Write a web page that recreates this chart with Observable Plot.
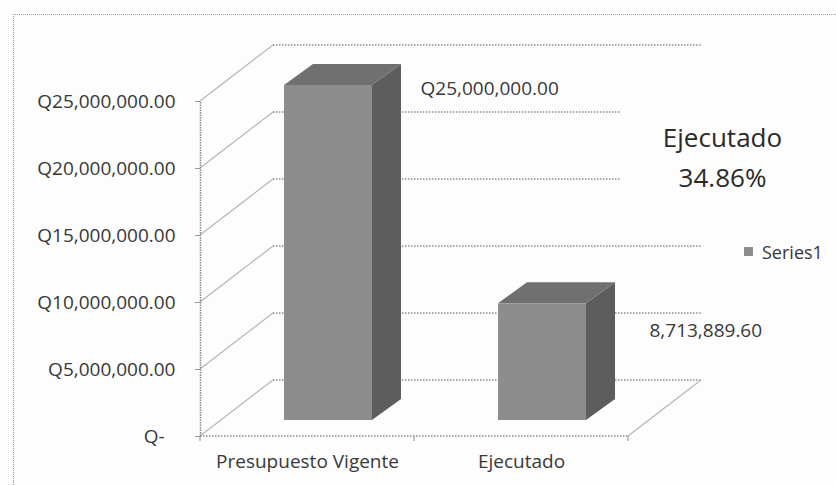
<!DOCTYPE html>
<html>
<head>
<meta charset="utf-8">
<script src="https://cdn.jsdelivr.net/npm/d3@7"></script>
<script src="https://cdn.jsdelivr.net/npm/@observablehq/plot@0.6"></script>
<style>
  html, body { margin: 0; padding: 0; background: #fdfdfd; }
  #wrap { position: relative; width: 836px; height: 486px; overflow: hidden; background: #fdfdfd; font-family: "Open Sans", sans-serif; }
  #frame { position: absolute; left: 13px; top: 14px; width: 1000px; height: 1000px; border-left: 1px dotted #9a9a9a; border-top: 1px dotted #9a9a9a; }
  #chart { position: absolute; left: 0; top: 0; }
  #chart svg g[aria-label="y-axis tick"], #chart svg g[aria-label="y-axis tick"] path { stroke: #9a9a9a; }
  #note { position: absolute; left: 620px; top: 100px; width: 205px; padding-top: 17px; height: 80px; background: #fdfdfd; text-align: center; font-size: 26px; line-height: 40px; color: #2a2a2a; }
  #legend { position: absolute; left: 744px; top: 235px; }
  #legend, #legend * { font-family: "Open Sans", sans-serif !important; font-size: 18px !important; color: #383838 !important; }
</style>
</head>
<body>
<div id="wrap">
  <div id="frame"></div>
  <div id="chart"></div>
  <div id="note"></div>
  <div id="legend"></div>
</div>
<script>
// ---- data ----
const categories = ["Presupuesto Vigente", "Ejecutado"];
const values = [25000000, 8713889.60];
const valueLabels = ["Q25,000,000.00", "8,713,889.60"];
const yTicks = [0, 5000000, 10000000, 15000000, 20000000, 25000000];
const seriesName = "Series1";
const noteTitle = "Ejecutado";

const data = categories.map((c, i) => ({category: c, value: values[i], label: valueLabels[i]}));
const pct = values[1] / values[0] * 100;

// ---- style constants ----
const WALL = {dx: 73, dy: -56};   // back wall offset
const BAR = {dx: 21, dy: -16};    // bar plane offset
const DEPTH = {dx: 29, dy: -21};  // bar depth
const colFront = "#8d8d8d", colTop = "#707070", colSide = "#5d5d5d";
const gridCol = "#8c8c8c", diagCol = "#b5b5b5";

const fmtTick = v => v === 0 ? "Q-\u2007" : "Q" + d3.format(",.2f")(v);

function walls(index, scales, values, dims) {
  const x = scales.x, y = scales.y;
  const g = d3.create("svg:g").attr("fill", "none");
  const x0 = dims.marginLeft, x1 = dims.width - dims.marginRight;
  const y0 = y(0);
  for (const t of yTicks) {
    const yy = y(t);
    g.append("line").attr("x1", x0).attr("y1", yy).attr("x2", x0 + WALL.dx).attr("y2", yy + WALL.dy)
      .attr("stroke", diagCol).attr("stroke-width", 1.2);
    g.append("line").attr("x1", x0 + WALL.dx).attr("x2", x1 + WALL.dx)
      .attr("y1", yy + WALL.dy).attr("y2", yy + WALL.dy)
      .attr("stroke", gridCol).attr("stroke-width", 1.4).attr("stroke-dasharray", "1.5,1.5");
  }
  // floor right edge
  g.append("line").attr("x1", x1).attr("y1", y0).attr("x2", x1 + WALL.dx).attr("y2", y0 + WALL.dy)
    .attr("stroke", diagCol).attr("stroke-width", 1.2);
  // front axis & floor front edge
  g.append("line").attr("x1", x0 + 0.5).attr("x2", x0 + 0.5).attr("y1", y0).attr("y2", y(yTicks[yTicks.length - 1]))
    .attr("stroke", "#888").attr("stroke-width", 1.5).attr("stroke-dasharray", "1.5,1");
  g.append("line").attr("x1", x0).attr("x2", x1).attr("y1", y0).attr("y2", y0)
    .attr("stroke", gridCol).attr("stroke-width", 1.4).attr("stroke-dasharray", "1.5,1.5");
  // category boundary ticks
  const step = x.step ? x.step() : (x1 - x0) / categories.length;
  for (let i = 0; i <= categories.length; i++) {
    const xx = x0 + i * step;
    g.append("line").attr("x1", xx).attr("x2", xx).attr("y1", y0).attr("y2", y0 + 5)
      .attr("stroke", gridCol).attr("stroke-width", 1);
  }
  return g.node();
}

function bars3d(index, scales) {
  const x = scales.x, y = scales.y;
  const bw = x.bandwidth();
  const g = d3.create("svg:g");
  for (const d of data) {
    const xl = x(d.category) + BAR.dx, xr = xl + bw;
    const yb = y(0) + BAR.dy, yt = y(d.value) + BAR.dy;
    const poly = pts => "M" + pts.map(p => p.join(",")).join("L") + "Z";
    g.append("path").attr("fill", colSide)
      .attr("d", poly([[xr, yt], [xr + DEPTH.dx, yt + DEPTH.dy], [xr + DEPTH.dx, yb + DEPTH.dy], [xr, yb]]));
    g.append("path").attr("fill", colTop)
      .attr("d", poly([[xl, yt], [xr, yt], [xr + DEPTH.dx, yt + DEPTH.dy], [xl + DEPTH.dx, yt + DEPTH.dy]]));
    g.append("path").attr("fill", colFront)
      .attr("d", poly([[xl, yt], [xr, yt], [xr, yb], [xl, yb]]));
  }
  return g.node();
}

const plot = Plot.plot({
  width: 836,
  height: 486,
  marginLeft: 200,
  marginRight: 208,
  marginTop: 101,
  marginBottom: 50,
  style: {fontFamily: '"Open Sans", sans-serif', fontSize: "19px", color: "#383838", background: "transparent", overflow: "visible"},
  x: {type: "band", domain: categories, paddingInner: 0.59, paddingOuter: 0.295, tickSize: 0, tickPadding: 18, label: null},
  y: {domain: [0, 25000000], ticks: yTicks, tickFormat: fmtTick, tickSize: 5, tickPadding: 20, label: null},
  marks: [
    walls,
    bars3d,
    Plot.text(data.filter(d => d.category === categories[0]), {x: "category", y: "value", text: "label", textAnchor: "start", dx: 113, dy: -13, fill: "#383838"}),
    Plot.text(data.filter(d => d.category === categories[1]), {x: "category", y: "value", text: "label", textAnchor: "start", dx: 128, dy: 11, fill: "#383838"})
  ]
});
document.getElementById("chart").appendChild(plot);

document.getElementById("note").innerHTML = noteTitle + "<br>" + pct.toFixed(2) + "%";

const legend = Plot.legend({
  color: {type: "ordinal", domain: [seriesName], range: [colFront]},
  swatchSize: 9,
  style: {fontFamily: '"Open Sans", sans-serif', fontSize: "18px", color: "#383838"}
});
document.getElementById("legend").appendChild(legend);
</script>
</body>
</html>
